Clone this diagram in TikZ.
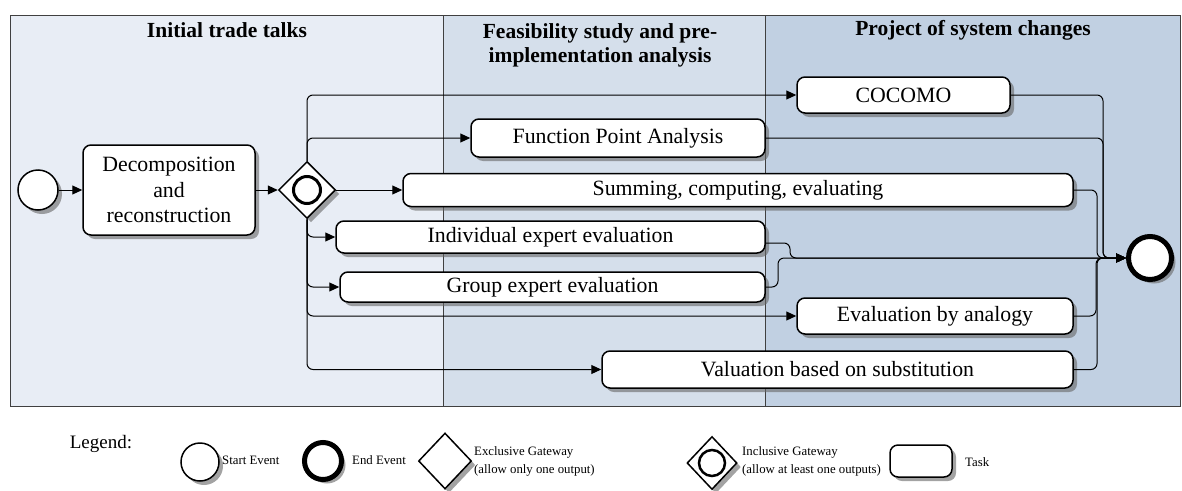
\documentclass[tikz,border=0pt]{standalone}
\usepackage{fontspec}
\setmainfont{Liberation Serif}
\usetikzlibrary{shapes.geometric,arrows.meta,shadows,positioning}

\begin{document}
\begin{tikzpicture}
  [x=1pt,y=-1pt,
   shade/.style={drop shadow={shadow xshift=4pt,shadow yshift=-4pt,fill=black!60,opacity=.6}},
   task/.style={draw,rounded corners=8pt,line width=1.5pt,fill=white,shade,inner sep=0pt,align=center,
     font=\fontsize{21.8}{25.5}\selectfont},
   startev/.style={circle,draw,line width=1.5pt,fill=white,shade,inner sep=0pt},
   endev/.style={circle,draw,line width=5pt,fill=white,shade,inner sep=0pt},
   gate/.style={diamond,draw,line width=1.5pt,fill=white,shade,inner sep=0pt},
   ring/.style={circle,draw,line width=3pt,inner sep=0pt},
   title/.style={font=\bfseries\fontsize{21.5}{24}\selectfont,align=center},
   small/.style={font=\fontsize{12.8}{18}\selectfont,align=left,anchor=west,inner sep=0pt},
   flow/.style={draw,line width=1pt,rounded corners=6pt,-{Triangle[length=10pt,width=9pt]}}]
  \useasboundingbox (0,0) rectangle (1182,490);

  % lanes
  \filldraw[fill={rgb,255:red,232;green,237;blue,245},draw=black!75] (10,15) rectangle (443,406);
  \filldraw[fill={rgb,255:red,213;green,223;blue,235},draw=black!75] (443,15) rectangle (765,406);
  \filldraw[fill={rgb,255:red,193;green,208;blue,226},draw=black!75] (765,15) rectangle (1180,406);
  \node[title] (l1) at (227,30) {Initial trade talks};
  \node[title] (l2) at (600,45) {Feasibility study and pre-\\implementation analysis};
  \node[title] (l3) at (973,30) {Project of system changes};

  \node[startev,minimum size=40pt] (start) at (38,190) {};
  \node[task,minimum width=172pt,minimum height=90pt] (dec) at (169,190) {Decomposition\\and\\reconstruction};
  \node[gate,minimum width=57pt,minimum height=57pt] (gw) at (307,190) {};
  \node[ring,minimum size=27pt] (gwr) at (307,190) {};

  \node[task,minimum width=213pt,minimum height=36pt] (cocomo) at (903.5,95) {COCOMO};
  \node[task,minimum width=294pt,minimum height=38pt] (fpa) at (618,138) {Function Point Analysis};
  \node[task,minimum width=670pt,minimum height=33pt] (sum) at (738,190) {Summing, computing, evaluating};
  \node[task,minimum width=429pt,minimum height=32pt] (ind) at (550.5,237) {Individual expert evaluation};
  \node[task,minimum width=425pt,minimum height=30pt] (grp) at (552.5,287) {Group expert evaluation};
  \node[task,minimum width=276pt,minimum height=36pt] (ana) at (935,316) {Evaluation by analogy};
  \node[task,minimum width=471pt,minimum height=37pt] (sub) at (837.5,369.5) {Valuation based on substitution};
  \node[endev,minimum size=43pt] (end) at (1150,258) {};

  \draw[flow] (start) -- (dec);
  \draw[flow] (dec) -- (gw);
  \draw[flow] (gw.east) -- (sum.west);
  \foreach \from/\to in {north/cocomo,north/fpa,south/ind,south/grp,south/ana,south/sub}
    \draw[flow] (gw.\from) |- (\to.west);
  \foreach \from/\x in {cocomo/1103,fpa/1103,sum/1097,ana/1096,sub/1097}
    \draw[flow] (\from.east) -| (\x,258) -- (end.west);
  \draw[flow] ([yshift=-6pt]ind.east) -| (790,258) -- (end.west);
  \draw[flow] (grp.east) -| (778,258) -- (end.west);

  % legend
  \node[font=\fontsize{19}{22}\selectfont] (leg) at (101,444) {Legend:};
  \node[startev,minimum size=38pt] (lstart) at (200,462) {};
  \node[small] (tstart) at (222,460) {Start Event};
  \node[endev,minimum size=37pt] (lend) at (323,461) {};
  \node[small] (tend) at (352,460) {End Event};
  \node[gate,minimum width=53pt,minimum height=56pt] (lexc) at (445,461) {};
  \node[small] (texc) at (474,461) {Exclusive Gateway\\(allow only one output)};
  \node[gate,minimum width=50pt,minimum height=53pt] (linc) at (712,463) {};
  \node[ring,minimum size=26pt,line width=2.5pt] (lincr) at (712,463) {};
  \node[small] (tinc) at (742,461) {Inclusive Gateway\\(allow at least one outputs)};
  \node[task,minimum width=62pt,minimum height=32pt] (ltask) at (921,461) {};
  \node[small] (ttask) at (965,462) {Task};
\end{tikzpicture}
\end{document}
